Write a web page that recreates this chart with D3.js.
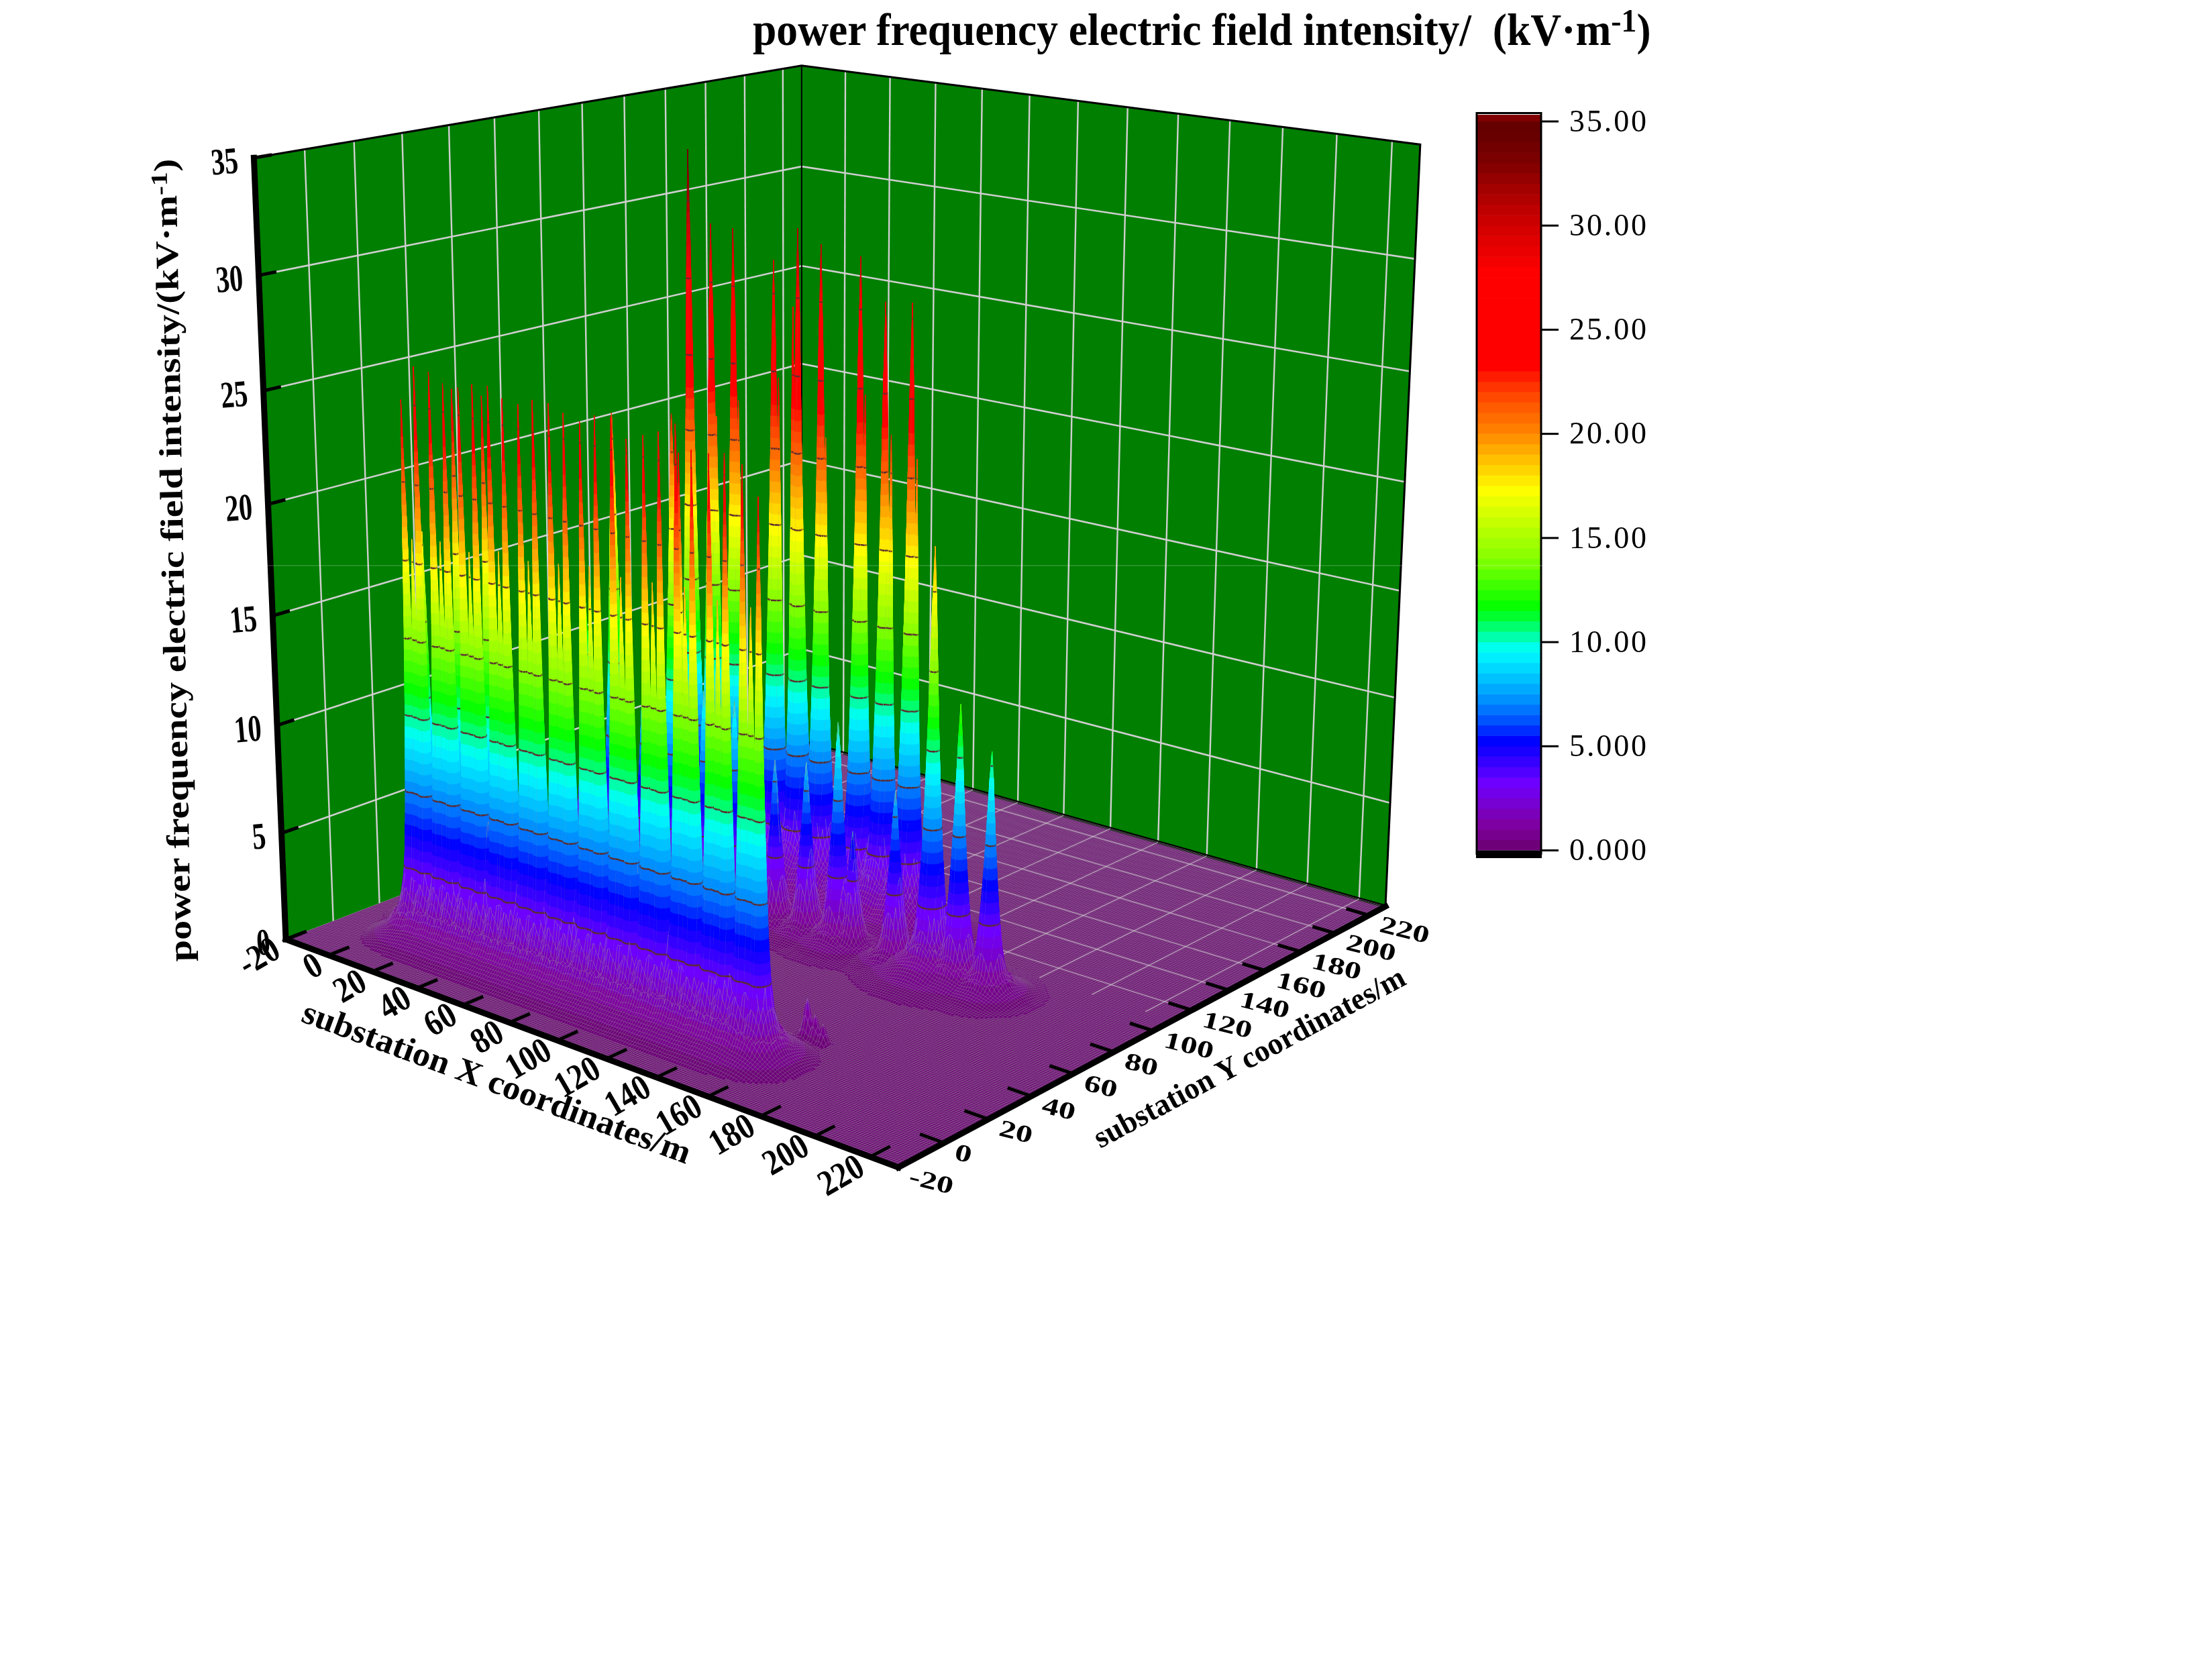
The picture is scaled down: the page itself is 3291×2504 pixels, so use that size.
<!DOCTYPE html>
<html><head><meta charset="utf-8">
<script src="https://cdn.jsdelivr.net/npm/d3@7"></script>
<style>
html,body{margin:0;padding:0;background:#fff;overflow:hidden}
#stage{position:relative;width:3291px;height:2504px}
#stage svg,#stage canvas{position:absolute;left:0;top:0}
text{font-family:"Liberation Serif",serif;white-space:pre}
</style></head><body><div id="stage"></div>
<script>
// ---------- data ----------
const xTicks=[-20,0,20,40,60,80,100,120,140,160,180,200,220];
const yTicks=[-20,0,20,40,60,80,100,120,140,160,180,200,220];
const zTicks=[0,5,10,15,20,25,30,35];
const barTicks=[0,5,10,15,20,25,30,35];
const barLabels=["0.000","5.000","10.00","15.00","20.00","25.00","30.00","35.00"];
const xDomain=[-20,230], yDomain=[-20,230], zDomain=[0,35];

const frontRowY=7;
const frontRowX=[11.5,14.5,17.5,24,27,30,36.6,39.6,42.6,49.2,52.2,55.2,61.8,64.8,67.8,74.4,77.4,80.4,87,90,93,99.6,102.6,105.6,112.2,115.2,118.2,124.8,127.8,130.8,137.4,140.4,143.4,150,153,156];
const frontRowField=[24.4,18.2,25.9,25.7,18.2,25.3,25.3,18.1,25.6,25.7,18.5,25.3,25.2,18.4,25.5,25.5,18.6,25.2,25,18.8,25.4,25.5,18.7,24.7,25,18.8,25.3,25.8,19,24.9,24.9,18.8,25.1,24.9,19.1,23.8];
const midRowY=22;
const midRowX=[3,18,31,85,112];
const midRowField=[18,24.5,24.5,24,24];
const backRowY=87;
const backRowX=[10,23,36,49,62,75,92,105,118,124,141,155.6,166,178];
const backRowField=[12.8,22,11,22.5,10,10,7.8,8.1,10.4,5.6,8,19.3,12.6,11];
const tallRowY=112;
const tallRowX=[34,43.5,53,70,80,89.5,105.5,115.5,126];
const tallRowField=[33.4,30,30,28.9,30.4,30,29.8,27.9,28.3];
const twinRowX=[45.5,55,72,78,91.5,107.5,118,128.3];
const twinRowField=[21.2,22.3,23.7,27,21.5,23.7,22.1,21.6];
const smallRowY=27;
const smallRowX=[157,160,163];
const smallRowField=[1.9,1.3,1];
// how the field falls off around a spike: share of its peak at a ground distance in metres
const ringDistance=[0,0.4,0.7,1.5,2.3,3,4,5,8,14,25,35];
const ringShare=[1,0.92,0.85,0.6,0.42,0.29,0.17,0.105,0.05,0.022,0.006,0];
// width of the spikes of each row, relative to the ring table
const frontRowSpread=0.7,midRowSpread=0.7,backRowSpread=1.05,tallRowSpread=0.95,twinRowSpread=0.55,smallRowSpread=0.7;
// part of the field of spikes further away than farDistance that adds to the strongest one
const neighbourShare=0.2,farDistance=7;
// colour ramp
const rampValue=[0,1.2,3.2,5.2,6.4,7.5,9.6,10.6,11.6,13.9,17.3,20.2,22,23.3,27.8,30.7,33,34.5,35];
const rampColor=["#6a0070","#7f00a0","#7000ff","#0000ff","#0060ff","#00a0ff","#00ffff","#00ff80","#00ff00","#80ff00","#ffff00","#ff8000","#ff4000","#ff0000","#ff0000","#c00000","#800000","#640000","#640000"];
const contourLevels=[3.5,7,10.5,14,17.5,21,24.5,28,31.5];
const bandStep=0.5;

// ---------- camera: screen position of the box corners ----------
const floorL=[426,1400],floorF=[1339,1740],floorR=[2065,1351],floorB=[1195,1105];
const topL=[378,232],topB=[1195,101],topR=[2117,215];
const xs=d3.scaleLinear(xDomain,[0,1]),ys=d3.scaleLinear(yDomain,[0,1]),zs=d3.scaleLinear(zDomain,[0,1]);
const cam=(()=>{
  const [x0,y0]=floorL,[x1,y1]=floorF,[x2,y2]=floorR,[x3,y3]=floorB;
  const dx1=x1-x2,dx2=x3-x2,sx=x0-x1+x2-x3,dy1=y1-y2,dy2=y3-y2,sy=y0-y1+y2-y3;
  const den=dx1*dy2-dx2*dy1;
  const g=(sx*dy2-dx2*sy)/den,h=(dx1*sy-sx*dy1)/den;
  const a=x1-x0+g*x1,b=x3-x0+h*x3,c=x0,d=y1-y0+g*y1,e=y3-y0+h*y3,f=y0;
  const base=(u,v)=>[a*u+b*v+c,d*u+e*v+f,g*u+h*v+1];
  const rows=[];
  [[0,0,topL],[0,1,topB],[1,1,topR]].forEach(([u,v,p])=>{
    const H=base(u,v);
    rows.push([1,0,-p[0],p[0]*H[2]-H[0]]);
    rows.push([0,1,-p[1],p[1]*H[2]-H[1]]);
  });
  const N=[0,1,2].map(i=>[0,1,2,3].map(j=>d3.sum(rows,r=>r[i]*r[j])));
  for(let i=0;i<3;i++){
    let m=i;for(let k=i+1;k<3;k++)if(Math.abs(N[k][i])>Math.abs(N[m][i]))m=k;
    [N[i],N[m]]=[N[m],N[i]];
    for(let k=0;k<3;k++)if(k!==i){const q=N[k][i]/N[i][i];for(let l=i;l<4;l++)N[k][l]-=q*N[i][l];}
  }
  return {a,b,c,d,e,f,g,h,c1:N[0][3]/N[0][0],c2:N[1][3]/N[1][1],c3:N[2][3]/N[2][2]};
})();
function project(x,y,z){
  const u=xs(x),v=ys(y),w=zs(z);
  const q=cam.g*u+cam.h*v+1+cam.c3*w;
  return [(cam.a*u+cam.b*v+cam.c+cam.c1*w)/q,(cam.d*u+cam.e*v+cam.f+cam.c2*w)/q];
}
const line3=pts=>"M"+pts.map(p=>project(p[0],p[1],p[2]).map(n=>n.toFixed(2)).join(",")).join("L");

const ramp=d3.scaleLinear(rampValue,rampColor).interpolate(d3.interpolateRgb);
const bandColor=d3.range(0,70).map(k=>d3.color(ramp((k+0.5)*bandStep)).formatHex());

const stage=d3.select("#stage");
const W=3291,H=2504;
const back=stage.append("svg").attr("width",W).attr("height",H);
const canvas=stage.append("canvas").attr("width",W).attr("height",H);
const front=stage.append("svg").attr("width",W).attr("height",H);

// ---------- walls ----------
const [xa,xb]=xDomain,[ya,yb]=yDomain,[za,zb]=zDomain;
const wallFill="#007f00",gridCol="#cfcfcf";
back.append("path").attr("d",line3([[xa,ya,za],[xa,yb,za],[xa,yb,zb],[xa,ya,zb]])+"Z").attr("fill",wallFill);
back.append("path").attr("d",line3([[xa,yb,za],[xb,yb,za],[xb,yb,zb],[xa,yb,zb]])+"Z").attr("fill",wallFill);
zTicks.filter(z=>z>0&&z<35).forEach(z=>{
  back.append("path").attr("d",line3([[xa,ya,z],[xa,yb,z],[xb,yb,z]])).attr("fill","none").attr("stroke",gridCol).attr("stroke-width",2.6);
});
yTicks.filter(t=>t>ya).forEach(t=>{
  back.append("path").attr("d",line3([[xa,t,za],[xa,t,zb]])).attr("stroke",gridCol).attr("stroke-width",2.4);
});
xTicks.filter(t=>t>xa).forEach(t=>{
  back.append("path").attr("d",line3([[t,yb,za],[t,yb,zb]])).attr("stroke",gridCol).attr("stroke-width",2.4);
});
back.append("path").attr("d",line3([[xa,ya,zb],[xa,yb,zb],[xb,yb,zb],[xb,yb,za]])).attr("fill","none").attr("stroke","#000").attr("stroke-width",3);
back.append("path").attr("d",line3([[xa,yb,za],[xa,yb,zb]])).attr("stroke","#000").attr("stroke-width",2);

// ---------- floor with its fine mesh ----------
back.append("path").attr("d",line3([[xa,ya,0],[xb,ya,0],[xb,yb,0],[xa,yb,0]])+"Z").attr("fill","#700a78");
back.append("path").attr("d",line3([[xa,yb,0],[xb,yb,0]])).attr("stroke","#000").attr("stroke-width",5);
let mesh="";
d3.range(xa,xb+0.01,1).forEach(t=>{mesh+=line3([[t,ya,0],[t,yb,0]]);});
d3.range(ya,yb+0.01,1).forEach(t=>{mesh+=line3([[xa,t,0],[xb,t,0]]);});
const meshCol="rgba(150,150,150,0.55)",meshWidth=0.8;
back.append("path").attr("d",mesh).attr("fill","none").attr("stroke",meshCol).attr("stroke-width",meshWidth);
yTicks.filter(t=>t>=120).forEach(t=>{
  back.append("path").attr("d",line3([[xa,t,0],[xb,t,0]])).attr("stroke",gridCol).attr("stroke-width",1.8).attr("stroke-opacity",0.55);
});
xTicks.filter(t=>t>=0).forEach(t=>{
  back.append("path").attr("d",line3([[t,110,0],[t,yb,0]])).attr("stroke",gridCol).attr("stroke-width",1.8).attr("stroke-opacity",0.55);
});

// ---------- surface ----------
const spikes=[
  ...frontRowX.map((x,i)=>({x,y:frontRowY,p:frontRowField[i],w:frontRowSpread})),
  ...midRowX.map((x,i)=>({x,y:midRowY,p:midRowField[i],w:midRowSpread})),
  ...smallRowX.map((x,i)=>({x,y:smallRowY,p:smallRowField[i],w:smallRowSpread})),
  ...backRowX.map((x,i)=>({x,y:backRowY,p:backRowField[i],w:backRowSpread})),
  ...tallRowX.map((x,i)=>({x,y:tallRowY,p:tallRowField[i],w:tallRowSpread})),
  ...twinRowX.map((x,i)=>({x,y:tallRowY,p:twinRowField[i],w:twinRowSpread}))
];
const falloff=d3.scaleLinear(ringDistance,ringShare).clamp(true);
const refine=(base,vals)=>{
  const s=new Set(base);
  vals.forEach(v=>{s.add(v);s.add(v-0.4);s.add(v+0.4);});
  return [...s].sort(d3.ascending);
};
const gx=refine(d3.range(xa,xb+0.01,1),spikes.map(s=>s.x));
const gy=refine(d3.range(ya,yb+0.01,1),spikes.map(s=>s.y));
const field=gy.map(y=>gx.map(x=>{
  let m=0,far=0;
  for(const s of spikes){
    const dx=x-s.x,dy=y-s.y,d2=dx*dx+dy*dy;
    if(d2>=1225*s.w*s.w)continue;
    const d=Math.sqrt(d2),v=s.p*falloff(d/s.w);
    if(d>farDistance)far+=v;
    if(v>m)m=v;
  }
  return Math.min(35,m+neighbourShare*far);
}));
const screen=gy.map((y,j)=>gx.map((x,i)=>{const p=project(x,y,field[j][i]);return [p[0],p[1],field[j][i]];}));

const ctx=canvas.node().getContext("2d");
ctx.lineJoin="round";
function clipAt(poly,t,keepAbove){
  const out=[];
  for(let i=0;i<poly.length;i++){
    const p=poly[i],q=poly[(i+1)%poly.length];
    const pi=keepAbove?p[2]>=t:p[2]<=t,qi=keepAbove?q[2]>=t:q[2]<=t;
    if(pi)out.push(p);
    if(pi!==qi){const r=(t-p[2])/(q[2]-p[2]);out.push([p[0]+r*(q[0]-p[0]),p[1]+r*(q[1]-p[1]),t]);}
  }
  return out;
}
let contourSegs=[];
function tri(a,b,c){
  const lo=Math.min(a[2],b[2],c[2]),hi=Math.max(a[2],b[2],c[2]);
  const k0=Math.floor(lo/bandStep),k1=Math.min(69,Math.floor(hi/bandStep));
  for(let k=k0;k<=k1;k++){
    let poly=[a,b,c];
    if(k0!==k1){
      poly=clipAt(poly,k*bandStep,true);
      if(poly.length)poly=clipAt(poly,(k+1)*bandStep,false);
    }
    if(poly.length<3)continue;
    const col=bandColor[Math.min(k,69)];
    ctx.beginPath();
    poly.forEach((p,i)=>i?ctx.lineTo(p[0],p[1]):ctx.moveTo(p[0],p[1]));
    ctx.closePath();
    ctx.fillStyle=col;ctx.fill();
    ctx.strokeStyle=col;ctx.lineWidth=0.6;ctx.stroke();
  }
  contourLevels.forEach(l=>{
    if(l<lo||l>hi)return;
    const cross=[];
    [[a,b],[b,c],[c,a]].forEach(([p,q])=>{
      if((p[2]-l)*(q[2]-l)<0){const r=(l-p[2])/(q[2]-p[2]);cross.push([p[0]+r*(q[0]-p[0]),p[1]+r*(q[1]-p[1])]);}
    });
    if(cross.length===2)contourSegs.push(cross);
  });
}
const isInt=v=>Math.abs(v-Math.round(v))<1e-6;
for(let j=gy.length-2;j>=0;j--){
  const flatMesh=[];
  contourSegs=[];
  for(let i=0;i<gx.length-1;i++){
    const p00=screen[j][i],p10=screen[j][i+1],p01=screen[j+1][i],p11=screen[j+1][i+1];
    const mx=Math.max(p00[2],p10[2],p01[2],p11[2]);
    if(mx<0.25)continue;
    tri(p01,p00,p11);tri(p00,p10,p11);
    const mn=Math.min(p00[2],p10[2],p01[2],p11[2]);
    const flat=(mx-mn)<1.2;
    if(flat){
      if(isInt(gx[i]))flatMesh.push([p00,p01]);
      if(isInt(gy[j+1]))flatMesh.push([p01,p11]);
    }else if(isInt(gx[i])&&Math.round(gx[i])%2===0){
      ctx.strokeStyle=meshCol;ctx.lineWidth=meshWidth;
      ctx.beginPath();ctx.moveTo(p10[0],p10[1]);ctx.lineTo(p11[0],p11[1]);ctx.stroke();
    }
  }
  if(flatMesh.length){
    ctx.beginPath();
    flatMesh.forEach(([p,q])=>{ctx.moveTo(p[0],p[1]);ctx.lineTo(q[0],q[1]);});
    ctx.strokeStyle=meshCol;ctx.lineWidth=meshWidth;ctx.stroke();
  }
  if(contourSegs.length){
    ctx.beginPath();
    contourSegs.forEach(([p,q])=>{ctx.moveTo(p[0],p[1]);ctx.lineTo(q[0],q[1]);});
    ctx.strokeStyle="#5c2c30";ctx.lineWidth=2.6;ctx.stroke();
  }
}

// ---------- axes ----------
const axisLine=(pts,w)=>front.append("path").attr("d",line3(pts)).attr("fill","none").attr("stroke","#000").attr("stroke-width",w).attr("stroke-linecap","square");
axisLine([[xa,ya,zb],[xa,ya,za]],9);
axisLine([[xa,ya,0],[xb,ya,0]],9);
axisLine([[xb,ya,0],[xb,yb,0]],9);
xTicks.forEach(t=>{
  axisLine([[t,ya,0],[t,ya+8,0]],5);
  const p=project(t,ya,0);
  front.append("text").attr("transform",`translate(${p[0]-5},${p[1]+25}) rotate(-30) scale(0.85,1)`).attr("text-anchor","end")
    .attr("font-size",54).attr("font-weight","bold").text(t);
});
yTicks.forEach(t=>{
  axisLine([[xb,t,0],[xb-8,t,0]],5);
  const p=project(xb,t,0);
  front.append("text").attr("transform",`translate(${p[0]+14},${p[1]+24}) rotate(14) scale(1,0.72)`)
    .attr("font-size",50).attr("font-weight","bold").text(t);
});
zTicks.forEach(t=>{
  const a=project(xa,ya,t),b=project(xa,ya+7,t);
  front.append("path").attr("d",`M${a}L${b}`).attr("stroke","#000").attr("stroke-width",5);
  front.append("text").attr("transform",`translate(${a[0]-22},${a[1]+22}) rotate(-5) scale(0.72,1)`).attr("text-anchor","end")
    .attr("font-size",56).attr("font-weight","bold").text(t);
});

// ---------- titles ----------
function fitted(x,y,angle,size,target,parts){
  const t=front.append("text").attr("font-size",size).attr("font-weight","bold");
  parts(t);
  const k=target/t.node().getComputedTextLength();
  t.attr("transform",`translate(${x},${y}) rotate(${angle}) scale(${k},1)`);
}
const unitText=(t,head)=>{
  t.append("tspan").text(head);
  t.append("tspan").attr("dy","-0.4em").attr("font-size","0.72em").text("-1");
  t.append("tspan").attr("dy","0.29em").text(")");
};
fitted(1122,67,0,68,1339,t=>unitText(t,"power frequency electric field intensity/  (kV\u00b7m"));
fitted(285,1433,-91.1,48,1197,t=>unitText(t,"power frequency electric field intensity/(kV\u00b7m"));
fitted(447,1522,20.3,50,614,t=>t.text("substation X coordinates/m"));
fitted(1640,1712,-28.2,46,520,t=>t.text("substation Y coordinates/m"));

// ---------- colour bar ----------
const bar=d3.scaleLinear([0,35],[1267,180.5]);
const barG=front.append("g");
barG.selectAll("rect.band").data(d3.range(0,70)).join("rect").attr("class","band")
  .attr("x",2202).attr("width",94)
  .attr("y",k=>bar((k+1)*bandStep)).attr("height",k=>bar(k*bandStep)-bar((k+1)*bandStep)+0.6)
  .attr("fill",k=>bandColor[k]);
barG.append("rect").attr("x",2202).attr("y",171).attr("width",94).attr("height",10).attr("fill","#800000");
barG.append("rect").attr("x",2201).attr("y",168.5).attr("width",96).attr("height",1104).attr("fill","none").attr("stroke","#000").attr("stroke-width",3);
barG.append("rect").attr("x",2200).attr("y",1267.5).attr("width",98).attr("height",11.5).attr("fill","#000");
const barAxis=d3.axisRight(bar).tickValues(barTicks).tickFormat((d,i)=>barLabels[i]).tickSize(25).tickPadding(16);
const barAxisG=front.append("g").attr("transform","translate(2298,0)").call(barAxis);
barAxisG.select(".domain").remove();
barAxisG.selectAll("line").attr("stroke","#000").attr("stroke-width",3);
barAxisG.selectAll("text").attr("font-family","Liberation Serif").attr("font-size",46).attr("fill","#000")
  .attr("textLength",115).attr("lengthAdjust","spacing");

// faint seam running across the picture
front.append("path").attr("d","M395,843H2299").attr("stroke","#fff").attr("stroke-opacity",0.3).attr("stroke-width",1.2);
</script></body></html>
